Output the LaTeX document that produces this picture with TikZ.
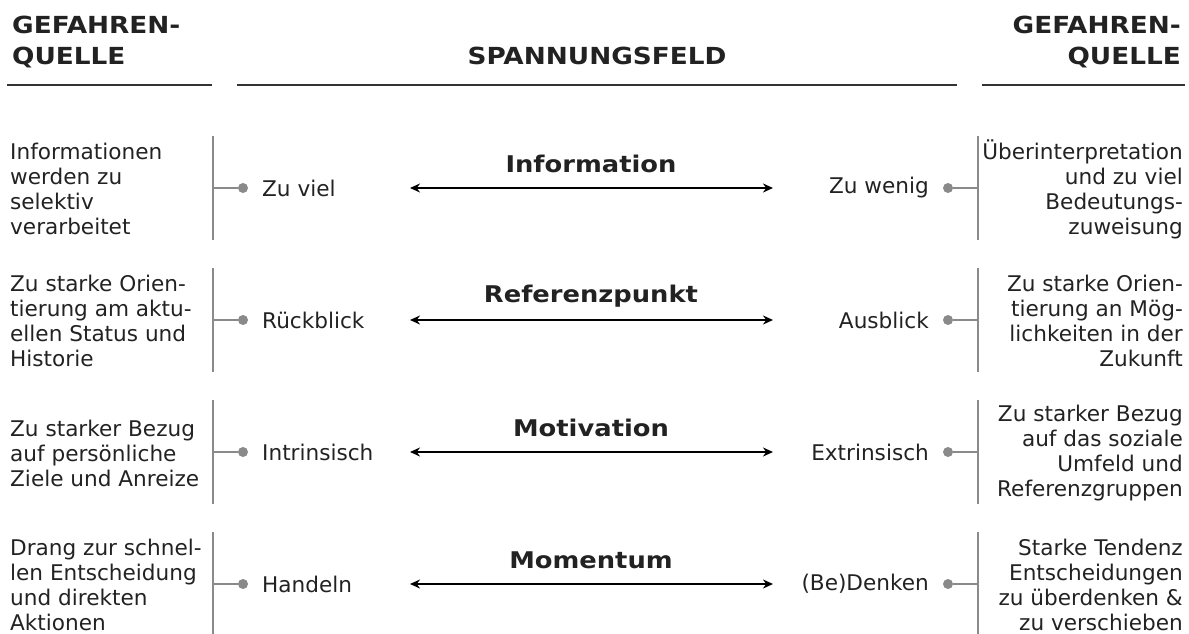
\documentclass[tikz,border=0pt]{standalone}
\usepackage{fontspec}
\setmainfont{DejaVu Sans}
\newfontfamily\headfont{DejaVu Sans Bold}[FakeStretch=1.12]
\usetikzlibrary{arrows.meta}

\definecolor{inkgray}{HTML}{222222}
\definecolor{bargray}{HTML}{8A8A8A}
\definecolor{rulegray}{HTML}{333333}

\begin{document}
\begin{tikzpicture}[x=1pt,y=-1pt,>={Stealth[length=10pt,width=9pt]},
                    text=inkgray,
                    font=\fontsize{21.6}{25}\selectfont]

  \tikzstyle{head}=[inner sep=0pt,font=\headfont\fontsize{23.5}{32}\selectfont]
  \tikzstyle{topic}=[inner sep=0pt,font=\headfont\fontsize{23}{26}\selectfont]
  \tikzstyle{source}=[inner sep=0pt]
  \tikzstyle{pole}=[inner sep=0pt]
  \tikzstyle{dot}=[circle,fill=bargray,inner sep=0pt,minimum size=10pt]
  \tikzstyle{bar}=[draw=bargray,line width=2pt]
  \tikzstyle{headrule}=[draw=rulegray,line width=2.2pt]

  \useasboundingbox (0,0) rectangle (1189,634);

  % header
  \node[head,anchor=base west,align=left]  (hl) at (12,65)   {GEFAHREN-\\QUELLE};
  \node[head,anchor=base]                  (hm) at (597,65)  {SPANNUNGSFELD};
  \node[head,anchor=base east,align=right] (hr) at (1181,65) {GEFAHREN-\\QUELLE};
  \coordinate (hl1) at (7,85);   \coordinate (hl2) at (212,85);
  \coordinate (hm1) at (237,85); \coordinate (hm2) at (957,85);
  \coordinate (hr1) at (982,85); \coordinate (hr2) at (1185,85);
  \draw[headrule] (hl1) -- (hl2);
  \draw[headrule] (hm1) -- (hm2);
  \draw[headrule] (hr1) -- (hr2);

  % rows
  \foreach \y/\ltxt/\lpol/\topic/\rpol/\rtxt [count=\i] in {
    188/{Informationen\\werden zu\\selektiv\\verarbeitet}/{Zu viel}/{Information}/{Zu wenig}/{Überinterpretation\\und zu viel\\Bedeutungs-\\zuweisung},
    320/{Zu starke Orien-\\tierung am aktu-\\ellen Status und\\Historie}/{Rückblick}/{Referenzpunkt}/{Ausblick}/{Zu starke Orien-\\tierung an Mög-\\lichkeiten in der\\Zukunft},
    452/{Zu starker Bezug\\auf persönliche\\Ziele und Anreize}/{Intrinsisch}/{Motivation}/{Extrinsisch}/{Zu starker Bezug\\auf das soziale\\Umfeld und\\Referenzgruppen},
    584/{Drang zur schnel-\\len Entscheidung\\und direkten\\Aktionen}/{Handeln}/{Momentum}/{(Be)Denken}/{Starke Tendenz\\Entscheidungen\\zu überdenken \&\\zu verschieben}}
  {
    \node[source,anchor=west,align=left]  (ls\i) at (10,\y+1)   {\ltxt};
    \node[source,anchor=east,align=right] (rs\i) at (1183,\y+1) {\rtxt};

    \coordinate (lt\i) at (213,\y-52); \coordinate (lb\i) at (213,\y+52);
    \coordinate (lm\i) at (213,\y);
    \coordinate (rt\i) at (978,\y-52); \coordinate (rb\i) at (978,\y+52);
    \coordinate (rm\i) at (978,\y);

    \node[dot] (ld\i) at (243,\y) {};
    \node[dot] (rd\i) at (948,\y) {};
    \node[pole,anchor=west] (lp\i) at (262,\y) {\lpol};
    \node[pole,anchor=east] (rp\i) at (929,\y) {\rpol};

    \coordinate (al\i) at (410,\y); \coordinate (ar\i) at (773,\y);
    \node[topic] (tp\i) at (591,\y-24) {\topic};

    \draw[bar] (lt\i) -- (lb\i);
    \draw[bar] (lm\i) -- (ld\i);
    \draw[bar] (rt\i) -- (rb\i);
    \draw[bar] (rm\i) -- (rd\i);
    \draw[<->,line width=2pt,black] (al\i) -- (ar\i);
  }
\end{tikzpicture}
\end{document}
